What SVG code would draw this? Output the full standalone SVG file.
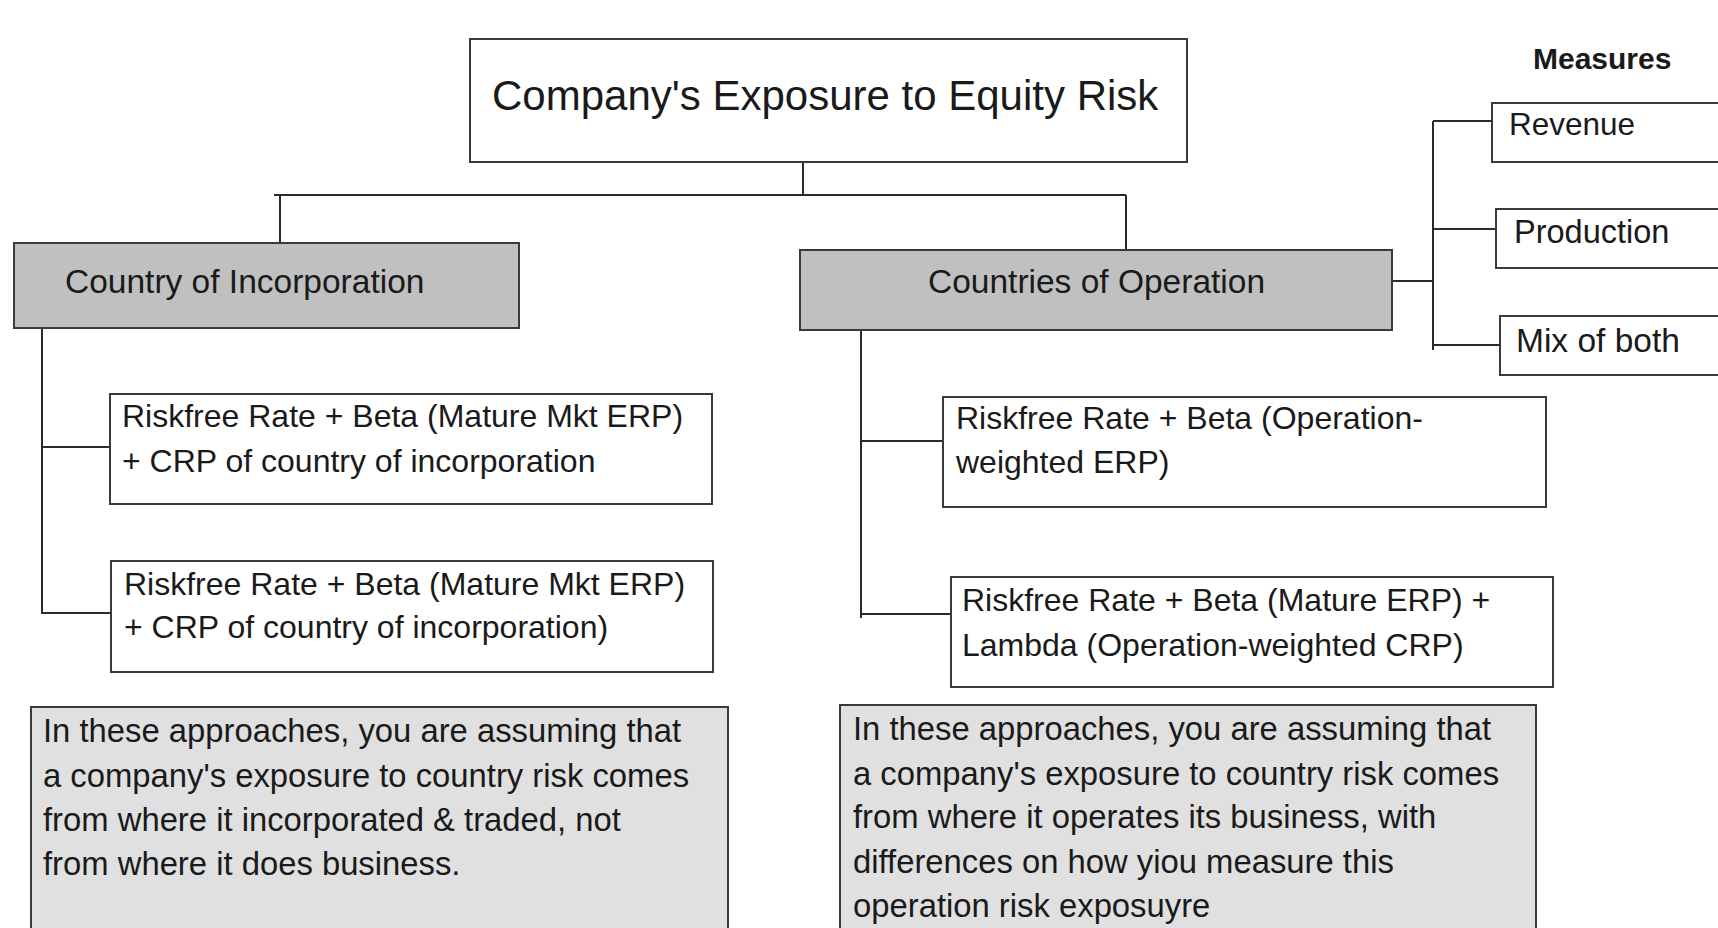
<svg xmlns="http://www.w3.org/2000/svg" width="1718" height="928" viewBox="0 0 1718 928">
<style>
  .box { fill: #ffffff; stroke: #3a3a3a; stroke-width: 2; }
  .hdr { fill: #c0c0c0; stroke: #3a3a3a; stroke-width: 2; }
  .note { fill: #e0e0e0; stroke: #3a3a3a; stroke-width: 2; }
  .t { font-family: "Liberation Sans", Arial, sans-serif; fill: #1a1a1a; }
  .conn line { stroke: #2a2a2a; stroke-width: 2; }
</style>
<rect width="1718" height="928" fill="#ffffff"/>

<g id="connectors" class="conn">
  <line x1="803" y1="161" x2="803" y2="195"/>
  <line x1="274" y1="195" x2="1126" y2="195"/>
  <line x1="280" y1="195" x2="280" y2="243"/>
  <line x1="1126" y1="195" x2="1126" y2="250"/>
  <line x1="42" y1="328" x2="42" y2="614"/>
  <line x1="42" y1="447" x2="110" y2="447"/>
  <line x1="42" y1="613" x2="113" y2="613"/>
  <line x1="861" y1="330" x2="861" y2="618"/>
  <line x1="861" y1="441" x2="943" y2="441"/>
  <line x1="861" y1="614" x2="951" y2="614"/>
  <line x1="1392" y1="281" x2="1433" y2="281"/>
  <line x1="1433" y1="121" x2="1433" y2="350"/>
  <line x1="1433" y1="121" x2="1492" y2="121"/>
  <line x1="1433" y1="229" x2="1496" y2="229"/>
  <line x1="1433" y1="345" x2="1500" y2="345"/>
</g>

<g id="root">
  <rect class="box" x="470" y="39" width="717" height="123"/>
  <text class="t" x="492" y="110" font-size="42">Company's Exposure to Equity Risk</text>
</g>

<g id="incorporation">
  <rect class="hdr" x="14" y="243" width="505" height="85"/>
  <text class="t" x="65" y="293" font-size="33.5">Country of Incorporation</text>
</g>

<g id="operation">
  <rect class="hdr" x="800" y="250" width="592" height="80"/>
  <text class="t" x="928" y="293" font-size="33.5">Countries of Operation</text>
</g>

<g id="measures-label">
  <text class="t" x="1533" y="69" font-size="30" font-weight="bold">Measures</text>
</g>

<g id="revenue">
  <rect class="box" x="1492" y="103" width="240" height="59"/>
  <text class="t" x="1509" y="135" font-size="31.5">Revenue</text>
</g>

<g id="production">
  <rect class="box" x="1496" y="209" width="240" height="59"/>
  <text class="t" x="1514" y="243" font-size="32.5">Production</text>
</g>

<g id="mix">
  <rect class="box" x="1500" y="316" width="240" height="59"/>
  <text class="t" x="1516" y="352" font-size="33.5">Mix of both</text>
</g>

<g id="inc-approach-1">
  <rect class="box" x="110" y="394" width="602" height="110"/>
  <text class="t" x="122" y="427" font-size="32">Riskfree Rate + Beta (Mature Mkt ERP)</text>
  <text class="t" x="122" y="472" font-size="32">+ CRP of country of incorporation</text>
</g>

<g id="inc-approach-2">
  <rect class="box" x="111" y="561" width="602" height="111"/>
  <text class="t" x="124" y="595" font-size="32">Riskfree Rate + Beta (Mature Mkt ERP)</text>
  <text class="t" x="124" y="638" font-size="32">+ CRP of country of incorporation)</text>
</g>

<g id="op-approach-1">
  <rect class="box" x="943" y="397" width="603" height="110"/>
  <text class="t" x="956" y="429" font-size="32">Riskfree Rate + Beta (Operation-</text>
  <text class="t" x="956" y="473" font-size="32">weighted ERP)</text>
</g>

<g id="op-approach-2">
  <rect class="box" x="951" y="577" width="602" height="110"/>
  <text class="t" x="962" y="611" font-size="32">Riskfree Rate + Beta (Mature ERP) +</text>
  <text class="t" x="962" y="656" font-size="32">Lambda (Operation-weighted CRP)</text>
</g>

<g id="inc-note">
  <rect class="note" x="31" y="707" width="697" height="240"/>
  <text class="t" x="43" y="742" font-size="32.8">In these approaches, you are assuming that</text>
  <text class="t" x="43" y="787" font-size="32.8">a company's exposure to country risk comes</text>
  <text class="t" x="43" y="831" font-size="32.8">from where it incorporated &amp; traded, not</text>
  <text class="t" x="43" y="875" font-size="32.8">from where it does business.</text>
</g>

<g id="op-note">
  <rect class="note" x="840" y="705" width="696" height="240"/>
  <text class="t" x="853" y="740" font-size="32.8">In these approaches, you are assuming that</text>
  <text class="t" x="853" y="785" font-size="32.8">a company's exposure to country risk comes</text>
  <text class="t" x="853" y="828" font-size="32.8">from where it operates its business, with</text>
  <text class="t" x="853" y="873" font-size="32.8">differences on how yiou measure this</text>
  <text class="t" x="853" y="917" font-size="32.8">operation risk exposuyre</text>
</g>
</svg>
